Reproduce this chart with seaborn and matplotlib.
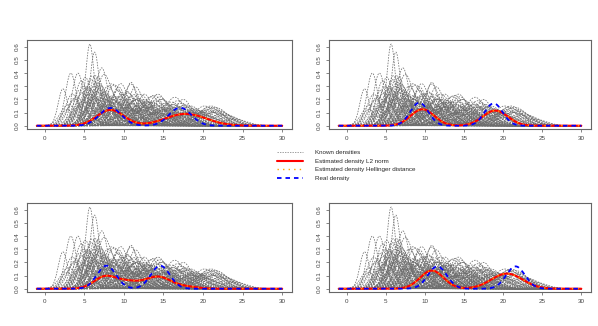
import numpy as np
import pandas as pd
import matplotlib
matplotlib.use("Agg")
import matplotlib.pyplot as plt
from matplotlib.lines import Line2D
import seaborn as sns

# Known densities: each one is two bumps (centre, height, width)
known_m1 = [5.7, 6.3, 3.3, 4.2, 2.3, 7.2, 6.0, 9.6, 10.9, 14.3, 17.5, 5.0, 6.5, 8.0, 7.0,
            8.8, 4.8, 3.8, 5.5, 6.8, 9.0, 7.5, 10.0, 11.5, 12.5, 13.5, 5.2, 6.2, 4.5, 8.3,
            7.8, 9.8, 3.0, 2.8, 5.9, 6.6, 10.5, 12.0, 8.5, 14.0, 7.0, 9.2, 11.2, 5.6, 6.9,
            4.0, 10.2, 15.0, 13.0, 7.4, 6.0, 8.0, 9.5, 11.0, 5.3, 12.2, 4.6, 6.4, 8.6, 10.8,
            5.4, 7.6, 9.3, 6.1, 8.2, 10.4, 12.8, 4.4, 6.7, 7.9, 9.9, 5.8, 11.8, 3.5, 8.9,
            14.8, 6.3, 16.2, 7.3, 10.6, 5.1, 9.1, 12.6, 4.9, 8.4, 11.4, 6.5, 13.2, 7.1, 9.7]
known_h1 = [0.62, 0.56, 0.40, 0.40, 0.28, 0.44, 0.38, 0.32, 0.33, 0.24, 0.20, 0.30, 0.33, 0.30, 0.28,
            0.31, 0.25, 0.20, 0.28, 0.25, 0.22, 0.20, 0.24, 0.20, 0.18, 0.22, 0.18, 0.22, 0.15, 0.27,
            0.16, 0.18, 0.16, 0.12, 0.35, 0.29, 0.14, 0.15, 0.12, 0.16, 0.18, 0.26, 0.23, 0.24, 0.31,
            0.22, 0.10, 0.12, 0.13, 0.34, 0.26, 0.19, 0.20, 0.17, 0.21, 0.11, 0.33, 0.38, 0.23, 0.29,
            0.30, 0.26, 0.29, 0.20, 0.21, 0.26, 0.19, 0.27, 0.36, 0.23, 0.16, 0.27, 0.21, 0.24, 0.18,
            0.20, 0.17, 0.16, 0.24, 0.20, 0.36, 0.13, 0.24, 0.19, 0.15, 0.27, 0.21, 0.17, 0.30, 0.24]
known_s1 = [0.55, 0.6, 0.7, 0.75, 0.6, 0.8, 0.9, 1.0, 0.8, 1.2, 1.1, 0.9, 1.0, 1.1, 1.2,
            1.2, 1.0, 0.9, 1.1, 1.3, 1.4, 1.2, 1.3, 1.2, 1.3, 1.4, 1.0, 1.1, 1.2, 1.0,
            1.5, 1.4, 1.0, 0.8, 0.8, 0.9, 1.5, 1.6, 1.6, 1.5, 1.4, 1.1, 1.1, 1.3, 1.0,
            1.1, 1.8, 1.6, 1.7, 0.9, 1.2, 1.3, 1.3, 1.4, 1.1, 1.8, 0.8, 0.8, 1.2, 0.9,
            0.7, 0.9, 0.9, 1.0, 1.1, 1.0, 1.1, 0.8, 0.7, 1.0, 1.2, 0.9, 1.2, 0.9, 1.3,
            1.2, 1.3, 1.3, 1.1, 1.2, 0.75, 1.6, 1.0, 1.1, 1.5, 0.9, 1.2, 1.3, 0.9, 1.1]
known_m2 = [10.0, 12.0, 9.0, 11.0, 7.5, 14.0, 15.0, 17.0, 20.0, 21.0, 23.0, 13.0, 16.5, 14.5, 19.0,
            15.5, 11.5, 10.5, 9.5, 12.5, 18.0, 13.5, 16.0, 20.5, 21.5, 19.5, 15.5, 17.5, 12.0, 11.0,
            16.8, 14.8, 8.5, 6.5, 18.5, 20.0, 22.0, 18.8, 13.0, 21.0, 10.5, 12.8, 15.8, 14.2, 11.8,
            16.0, 19.0, 22.5, 24.0, 9.8, 8.8, 21.5, 20.2, 17.2, 18.0, 16.5, 7.8, 13.8, 19.5, 14.0,
            12.5, 16.0, 13.2, 10.8, 11.8, 15.2, 17.8, 9.2, 10.2, 14.0, 13.8, 16.8, 19.0, 11.2, 17.5,
            20.8, 12.2, 21.8, 15.0, 18.4, 8.2, 16.3, 22.8, 13.6, 20.6, 14.6, 18.2, 17.0, 12.0, 21.2]
known_h2 = [0.08, 0.06, 0.10, 0.12, 0.15, 0.10, 0.12, 0.10, 0.10, 0.15, 0.06, 0.18, 0.14, 0.22, 0.12,
            0.16, 0.20, 0.25, 0.22, 0.20, 0.14, 0.18, 0.18, 0.12, 0.14, 0.11, 0.13, 0.15, 0.24, 0.16,
            0.19, 0.20, 0.20, 0.26, 0.10, 0.08, 0.11, 0.13, 0.14, 0.13, 0.12, 0.14, 0.12, 0.10, 0.10,
            0.09, 0.10, 0.09, 0.05, 0.15, 0.18, 0.10, 0.15, 0.17, 0.08, 0.21, 0.12, 0.09, 0.09, 0.15,
            0.12, 0.10, 0.16, 0.22, 0.20, 0.17, 0.16, 0.18, 0.14, 0.19, 0.23, 0.12, 0.12, 0.15, 0.13,
            0.14, 0.17, 0.12, 0.14, 0.15, 0.16, 0.16, 0.08, 0.14, 0.11, 0.12, 0.11, 0.14, 0.13, 0.10]
known_s2 = [1.5, 1.8, 1.5, 1.6, 1.5, 1.8, 2.0, 1.8, 2.0, 1.5, 1.5, 1.6, 1.7, 1.3, 1.6,
            1.5, 1.4, 1.3, 1.5, 1.5, 1.6, 1.6, 1.5, 1.7, 1.6, 1.8, 1.8, 1.6, 1.4, 1.7,
            1.4, 1.5, 1.4, 1.2, 2.0, 2.0, 1.6, 1.5, 1.8, 1.6, 2.0, 1.5, 1.9, 2.0, 2.2,
            2.2, 2.2, 1.7, 1.5, 1.6, 1.5, 1.8, 1.4, 1.5, 2.5, 1.2, 1.5, 2.0, 2.0, 1.7,
            1.6, 1.8, 1.5, 1.2, 1.3, 1.4, 1.4, 1.4, 1.6, 1.5, 1.3, 1.9, 1.8, 1.7, 1.7,
            1.6, 1.5, 1.6, 1.7, 1.5, 1.3, 1.6, 1.8, 1.6, 1.8, 1.8, 1.9, 1.6, 1.8, 1.9]

# Per panel: bumps of the estimated (L2 / Hellinger) and real densities
panels = ["top left", "top right", "bottom left", "bottom right"]
est_centres = [[8.3, 17.8], [9.7, 19.0], [7.6, 10.5, 14.3, 17.8], [10.9, 20.5]]
est_heights = [[0.12, 0.09], [0.125, 0.115], [0.09, 0.05, 0.09, 0.015], [0.138, 0.115]]
est_widths = [[1.7, 2.6], [1.5, 1.6], [1.4, 1.5, 1.6, 1.5], [1.5, 2.0]]
real_centres = [[8.3, 17.1], [9.3, 18.8], [7.8, 14.6], [11.6, 21.6]]
real_heights = [[0.135, 0.137], [0.175, 0.17], [0.175, 0.175], [0.17, 0.17]]
real_widths = [[1.4, 1.4], [1.15, 1.15], [1.2, 1.2], [1.2, 1.2]]

x_ticks = [0, 5, 10, 15, 20, 25, 30]
y_ticks = [0.0, 0.1, 0.2, 0.3, 0.4, 0.5, 0.6]

grid = np.linspace(-1, 30, 500)


def bumps(centres, heights, widths):
    y = np.zeros_like(grid)
    for c, h, w in zip(centres, heights, widths):
        y += h * np.exp(-0.5 * ((grid - c) / w) ** 2)
    return y


known_frames = []
for i in range(len(known_m1)):
    y = bumps([known_m1[i], known_m2[i]], [known_h1[i], known_h2[i]], [known_s1[i], known_s2[i]])
    known_frames.append(pd.DataFrame({"x": grid, "y": y, "curve": i}))
known = pd.concat(known_frames, ignore_index=True)

sns.set_theme(style="ticks")
plt.rcParams["font.family"] = ["Liberation Sans", "DejaVu Sans"]

fig = plt.figure(figsize=(5.98, 3.26), dpi=100)
positions = [[27 / 598, 1 - 129 / 326, 265 / 598, 89 / 326],
             [329 / 598, 1 - 129 / 326, 262 / 598, 89 / 326],
             [27 / 598, 1 - 292 / 326, 265 / 598, 89 / 326],
             [329 / 598, 1 - 292 / 326, 262 / 598, 89 / 326]]

for k, name in enumerate(panels):
    ax = fig.add_axes(positions[k])
    sns.lineplot(data=known, x="x", y="y", units="curve", estimator=None, ax=ax,
                 color="#6e6e6e", lw=0.55, linestyle=(0, (2, 1.6)), legend=False)
    est = bumps(est_centres[k], est_heights[k], est_widths[k])
    real = bumps(real_centres[k], real_heights[k], real_widths[k])
    sns.lineplot(x=grid, y=est, ax=ax, color="#ff0000", lw=1.5)
    sns.lineplot(x=grid, y=est, ax=ax, color="#ffa500", lw=1.0, linestyle=(0, (1, 3)))
    sns.lineplot(x=grid, y=real, ax=ax, color="#0000ff", lw=1.3, linestyle=(0, (2.5, 2.2)))

    ax.set_xlim(-2.24, 31.24)
    ax.set_ylim(-0.025, 0.652)
    ax.set_xticks(x_ticks)
    ax.set_yticks(y_ticks)
    ax.set_xticklabels([str(t) for t in x_ticks])
    ax.set_yticklabels(["%.1f" % t for t in y_ticks], rotation=90, va="center")
    ax.set_xlabel("")
    ax.set_ylabel("")
    for side in ["left", "right", "top", "bottom"]:
        ax.spines[side].set_visible(True)
        ax.spines[side].set_color("#666666")
        ax.spines[side].set_linewidth(0.8)
    ax.tick_params(axis="both", length=2.5, width=0.5, color="#555555",
                   labelsize=4.5, labelcolor="#444444", pad=2.5)

handles = [Line2D([], [], color="#7a7a7a", lw=0.5, linestyle=(0, (2, 1.6))),
           Line2D([], [], color="#ff0000", lw=1.5),
           Line2D([], [], color="#ffa500", lw=1.0, linestyle=(0, (1, 3))),
           Line2D([], [], color="#0000ff", lw=1.3, linestyle=(0, (2.5, 2.2)))]
labels = ["Known densities", "Estimated density L2 norm",
          "Estimated density Hellinger distance", "Real density"]
fig.legend(handles, labels, loc="upper left", bbox_to_anchor=(277 / 598, 1 - 150 / 326),
           frameon=False, fontsize=4.5, handlelength=4.2, handletextpad=1.9,
           labelspacing=0.5, borderpad=0, borderaxespad=0)

fig.savefig("out.png", dpi=100)
